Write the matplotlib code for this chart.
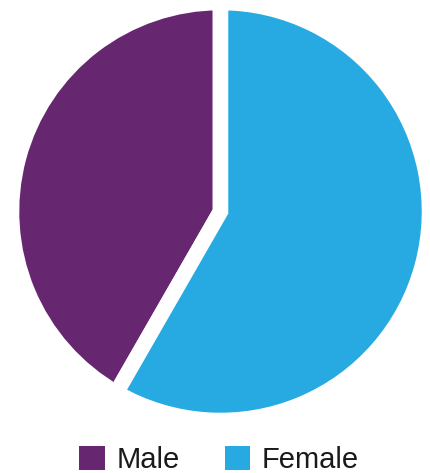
import matplotlib
matplotlib.use('Agg')
import matplotlib.pyplot as plt

plt.rcParams['font.family'] = ['Liberation Sans', 'DejaVu Sans']

labels = ['Male', 'Female']
shares = [41.7, 58.3]
colors = ['#662770', '#27AAE1']

W, H = 430, 473
fig = plt.figure(figsize=(W / 100, H / 100), dpi=100)

# pie radius in pixels (outer white stroke eats ~8 px of it)
R = 209
cx, cy = 220.5, 211.5
ax = fig.add_axes([(cx - R) / W, (H - cy - R) / H, 2 * R / W, 2 * R / H])

wedges, _ = ax.pie(shares, colors=colors, startangle=90, counterclock=True,
                   wedgeprops=dict(edgecolor='white', linewidth=11.2,
                                   joinstyle='miter', clip_on=False))
ax.set_xlim(-1, 1)
ax.set_ylim(-1, 1)
ax.axis('off')

leg = fig.legend(wedges, labels, loc='center', ncol=2, frameon=False,
                 bbox_to_anchor=(219 / W, 1 - 460 / H),
                 fontsize=21, handlelength=0.86, handleheight=0.86,
                 handletextpad=0.4, columnspacing=1.55,
                 borderpad=0, borderaxespad=0)
for t in leg.get_texts():
    t.set_color('#1a1a1a')
for h in leg.legend_handles:
    h.set_linewidth(0)

fig.savefig('out.png', dpi=100)
